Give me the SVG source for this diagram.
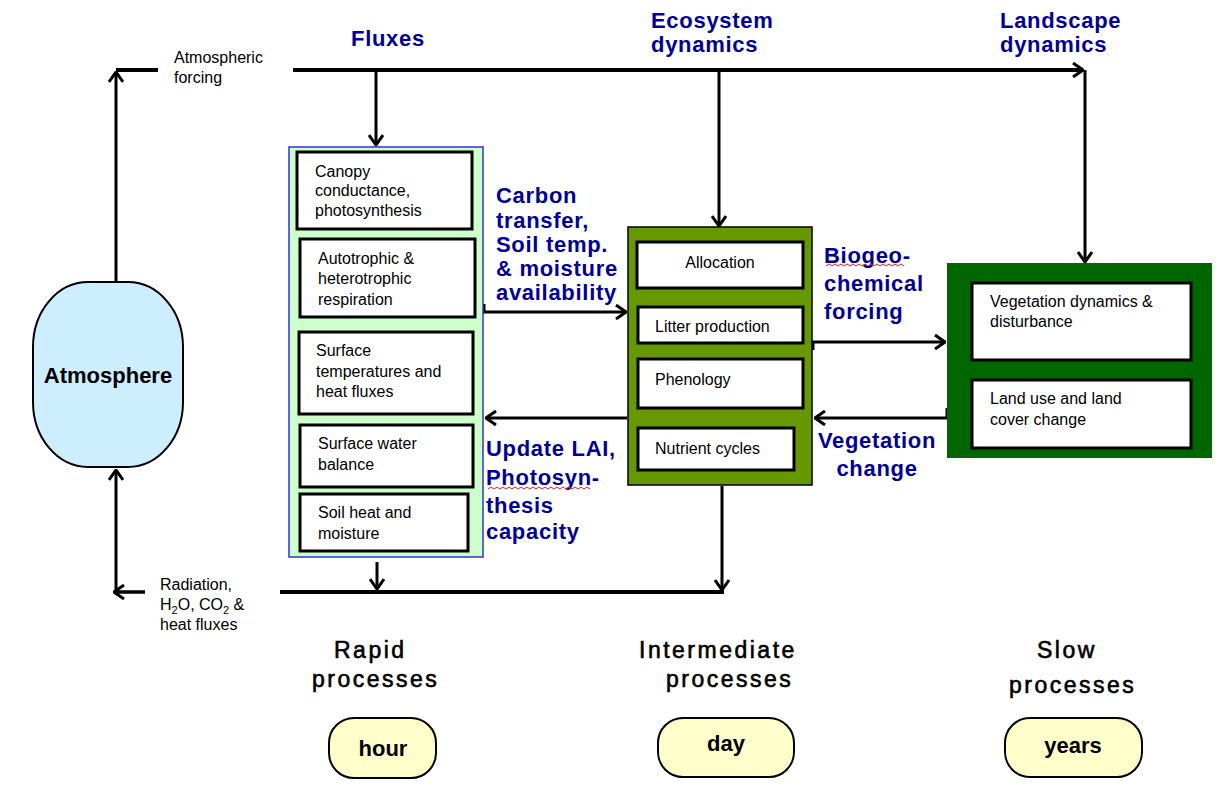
<svg xmlns="http://www.w3.org/2000/svg" width="1225" height="811" viewBox="0 0 1225 811">
<defs>
<style>
.t{font-family:"Liberation Sans",Arial,sans-serif;font-size:16px;fill:#000}
.b{font-family:"Liberation Sans",Arial,sans-serif;font-size:22px;font-weight:bold;fill:#000099;letter-spacing:0.7px}
.p{font-family:"Liberation Sans",Arial,sans-serif;font-size:23px;fill:#000;stroke:#000;stroke-width:0.6;letter-spacing:2.5px}
.pb{font-family:"Liberation Sans",Arial,sans-serif;font-size:22px;font-weight:bold;fill:#000}
.ib{fill:#fff;stroke:#000;stroke-width:3}
.ln{fill:none;stroke:#000;stroke-width:4}
.ln3{fill:none;stroke:#000;stroke-width:3}
.pill{fill:#ffffcc;stroke:#000;stroke-width:2}
.wavy{fill:none;stroke:#e02020;stroke-width:1}
</style>
<marker id="ah" viewBox="0 0 12 16" refX="11" refY="8" markerWidth="12" markerHeight="16" markerUnits="userSpaceOnUse" orient="auto">
<path d="M1,1 L11,8 L1,15" fill="none" stroke="#000" stroke-width="3"/>
</marker>
</defs>
<rect width="1225" height="811" fill="#fff"/>

<g id="connectors">
<path class="ln" d="M158,70 L116,70"/>
<path class="ln3" d="M116,282 L116,72" marker-end="url(#ah)"/>
<path class="ln" d="M293,70 L1083,70" marker-end="url(#ah)"/>
<path class="ln3" d="M376,70 L376,145" marker-end="url(#ah)"/>
<path class="ln3" d="M719,70 L719,226" marker-end="url(#ah)"/>
<path class="ln3" d="M1085,70 L1085,262" marker-end="url(#ah)"/>
<path class="ln3" d="M484,304 L484,312 L626,312" marker-end="url(#ah)"/>
<path class="ln3" d="M627,418 L486,418" marker-end="url(#ah)"/>
<path class="ln3" d="M813,350 L813,342 L945,342" marker-end="url(#ah)"/>
<path class="ln3" d="M947,408 L947,418 L815,418" marker-end="url(#ah)"/>
<path class="ln" d="M280,592 L724,592"/>
<path class="ln3" d="M722,486 L722,590" marker-end="url(#ah)"/>
<path class="ln3" d="M377,562 L377,589" marker-end="url(#ah)"/>
<path class="ln3" d="M145,592 L116,592 L116,470" marker-end="url(#ah)"/>
<path class="ln3" d="M145,592 L114,592" marker-end="url(#ah)"/>
</g>

<g id="labels">
<text class="t" x="174" y="63">Atmospheric</text>
<text class="t" x="174" y="83">forcing</text>
<text class="b" x="351" y="46">Fluxes</text>
<text class="b" x="651" y="28">Ecosystem</text>
<text class="b" x="651" y="52">dynamics</text>
<text class="b" x="1000" y="28">Landscape</text>
<text class="b" x="1000" y="52">dynamics</text>
<text class="b" x="496" y="203">Carbon</text>
<text class="b" x="496" y="228">transfer,</text>
<text class="b" x="496" y="252">Soil temp.</text>
<text class="b" x="496" y="276">&amp; moisture</text>
<text class="b" x="496" y="300">availability</text>
<text class="b" x="486" y="456">Update LAI,</text>
<text class="b" x="486" y="485">Photosyn-</text>
<text class="b" x="486" y="513">thesis</text>
<text class="b" x="486" y="539">capacity</text>
<path class="wavy" d="M488,489 l3,-2 l3,2 l3,-2 l3,2 l3,-2 l3,2 l3,-2 l3,2 l3,-2 l3,2 l3,-2 l3,2 l3,-2 l3,2 l3,-2 l3,2 l3,-2 l3,2 l3,-2 l3,2 l3,-2 l3,2 l3,-2 l3,2 l3,-2 l3,2 l3,-2 l3,2 l3,-2 l3,2 l3,-2 l3,2 l3,-2 l3,2"/>
<text class="b" x="824" y="263">Biogeo-</text>
<text class="b" x="824" y="291">chemical</text>
<text class="b" x="824" y="319">forcing</text>
<path class="wavy" d="M826,266 l3,-2 l3,2 l3,-2 l3,2 l3,-2 l3,2 l3,-2 l3,2 l3,-2 l3,2 l3,-2 l3,2 l3,-2 l3,2 l3,-2 l3,2 l3,-2 l3,2 l3,-2 l3,2 l3,-2 l3,2 l3,-2 l3,2 l3,-2 l3,2"/>
<text class="b" x="877" y="448" text-anchor="middle">Vegetation</text>
<text class="b" x="877" y="476" text-anchor="middle">change</text>
<text class="t" x="160" y="590">Radiation,</text>
<text class="t" x="160" y="610">H<tspan font-size="11" dy="4">2</tspan><tspan dy="-4">O, CO</tspan><tspan font-size="11" dy="4">2</tspan><tspan dy="-4"> &amp;</tspan></text>
<text class="t" x="160" y="630">heat fluxes</text>
<text class="p" x="334" y="658">Rapid</text>
<text class="p" x="312" y="687">processes</text>
<text class="p" x="639" y="658">Intermediate</text>
<text class="p" x="666" y="687">processes</text>
<text class="p" x="1037" y="658">Slow</text>
<text class="p" x="1009" y="693">processes</text>
</g>

<g id="atmosphere">
<rect x="33" y="282" width="150" height="185" rx="55" ry="65" fill="#cceeff" stroke="#000" stroke-width="2"/>
<text class="pb" x="108" y="383" text-anchor="middle" font-size="23">Atmosphere</text>
</g>

<g id="rapid">
<rect x="289" y="147" width="194" height="410" fill="#ccffcc" stroke="#3333cc" stroke-width="1.5"/>
<rect class="ib" x="297" y="152" width="175" height="77"/>
<text class="t" x="315" y="177">Canopy</text>
<text class="t" x="315" y="196">conductance,</text>
<text class="t" x="315" y="216">photosynthesis</text>
<rect class="ib" x="300" y="239" width="175" height="78"/>
<text class="t" x="318" y="264">Autotrophic &amp;</text>
<text class="t" x="318" y="284">heterotrophic</text>
<text class="t" x="318" y="305">respiration</text>
<rect class="ib" x="299" y="332" width="174" height="82"/>
<text class="t" x="316" y="356">Surface</text>
<text class="t" x="316" y="377">temperatures and</text>
<text class="t" x="316" y="397">heat fluxes</text>
<rect class="ib" x="300" y="425" width="173" height="62"/>
<text class="t" x="318" y="449">Surface water</text>
<text class="t" x="318" y="470">balance</text>
<rect class="ib" x="300" y="494" width="168" height="57"/>
<text class="t" x="318" y="518">Soil heat and</text>
<text class="t" x="318" y="539">moisture</text>
</g>

<g id="intermediate">
<rect x="628" y="227" width="184" height="258" fill="#669900" stroke="#000" stroke-width="1.5"/>
<rect class="ib" x="637" y="242" width="166" height="46"/>
<text class="t" x="720" y="268" text-anchor="middle">Allocation</text>
<rect class="ib" x="638" y="307" width="165" height="36"/>
<text class="t" x="655" y="332">Litter production</text>
<rect class="ib" x="638" y="359" width="165" height="49"/>
<text class="t" x="655" y="385">Phenology</text>
<rect class="ib" x="638" y="428" width="156" height="42"/>
<text class="t" x="655" y="454">Nutrient cycles</text>
</g>

<g id="slow">
<rect x="947" y="263" width="265" height="195" fill="#006600"/>
<rect class="ib" x="972" y="283" width="219" height="77"/>
<text class="t" x="990" y="307">Vegetation dynamics &amp;</text>
<text class="t" x="990" y="327">disturbance</text>
<rect class="ib" x="972" y="380" width="219" height="68"/>
<text class="t" x="990" y="404">Land use and land</text>
<text class="t" x="990" y="425">cover change</text>
</g>

<g id="hour">
<rect class="pill" x="329" y="718" width="107" height="60" rx="25"/>
<text class="pb" x="383" y="756" text-anchor="middle">hour</text>
</g>
<g id="day">
<rect class="pill" x="658" y="718" width="136" height="59" rx="25"/>
<text class="pb" x="726" y="751" text-anchor="middle">day</text>
</g>
<g id="years">
<rect class="pill" x="1005" y="718" width="137" height="59" rx="25"/>
<text class="pb" x="1073" y="753" text-anchor="middle">years</text>
</g>
</svg>
